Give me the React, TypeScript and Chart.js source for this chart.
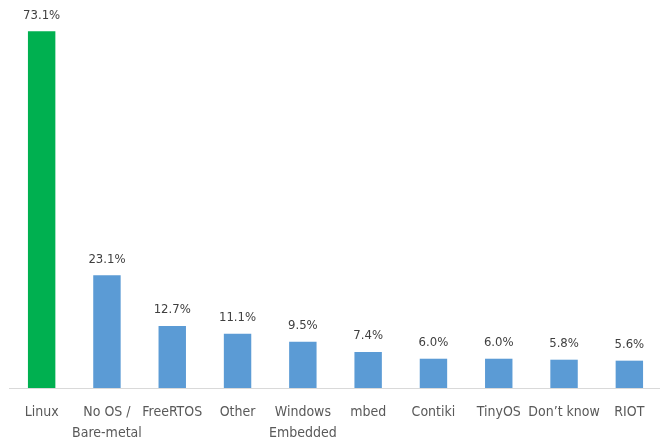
import React, { useEffect, useRef } from "react";
import { Chart, registerables } from "chart.js";

Chart.register(...registerables);

const categories: (string | string[])[] = [
  "Linux",
  ["No OS /", "Bare-metal"],
  "FreeRTOS",
  "Other",
  ["Windows", "Embedded"],
  "mbed",
  "Contiki",
  "TinyOS",
  "Don\u2019t know",
  "RIOT",
];
const values: number[] = [73.1, 23.1, 12.7, 11.1, 9.5, 7.4, 6.0, 6.0, 5.8, 5.6];
const barColors: string[] = [
  "#00b050", "#5b9bd5", "#5b9bd5", "#5b9bd5", "#5b9bd5",
  "#5b9bd5", "#5b9bd5", "#5b9bd5", "#5b9bd5", "#5b9bd5",
];

const FONT = "'Liberation Sans Narrow', 'DejaVu Sans Condensed', 'Open Sans', sans-serif";

const valueLabels = {
  id: "valueLabels",
  afterDatasetsDraw(chart: any) {
    const ctx = chart.ctx;
    const meta = chart.getDatasetMeta(0);
    ctx.save();
    ctx.font = `13px ${FONT}`;
    ctx.fillStyle = "#404040";
    ctx.textAlign = "center";
    ctx.textBaseline = "middle";
    meta.data.forEach((bar: any, i: number) => {
      ctx.fillText(values[i].toFixed(1) + "%", bar.x, bar.y - 16);
    });
    ctx.restore();
  },
};

export default function App() {
  const ref = useRef<HTMLCanvasElement>(null);
  useEffect(() => {
    if (!ref.current) return;
    const chart = new Chart(ref.current, {
      type: "bar",
      data: {
        labels: categories,
        datasets: [
          {
            data: values,
            backgroundColor: barColors,
            barPercentage: 0.42,
            categoryPercentage: 1,
          },
        ],
      },
      options: {
        animation: false,
        responsive: false,
        maintainAspectRatio: false,
        layout: { padding: { left: 9, right: 2, top: 22, bottom: 2 } },
        plugins: { legend: { display: false }, tooltip: { enabled: false } },
        scales: {
          x: {
            grid: { display: false, drawTicks: false },
            border: { display: true, color: "#d9d9d9", width: 1 },
            ticks: {
              color: "#595959",
              font: { family: FONT, size: 14, lineHeight: 1.5 },
              padding: 14,
              maxRotation: 0,
              autoSkip: false,
            },
          },
          y: { display: false, min: 0, max: 75 },
        },
      },
      plugins: [valueLabels],
    });
    return () => chart.destroy();
  }, []);
  return (
    <div style={{ position: "fixed", left: 0, top: 0, width: 660, height: 444, overflow: "hidden", background: "#fff" }}>
      <canvas ref={ref} width={664} height={460} style={{ display: "block" }} />
    </div>
  );
}
